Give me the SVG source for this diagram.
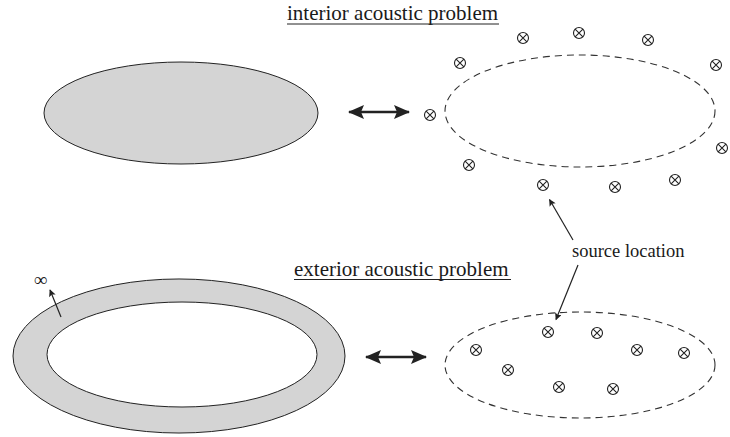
<svg xmlns="http://www.w3.org/2000/svg" width="730" height="437" viewBox="0 0 730 437">
<style>
.t{font-family:"Liberation Serif","Times New Roman",serif;fill:#1a1a1a}
.shape{fill:#d4d4d4;stroke:#222;stroke-width:1}
.dash{fill:none;stroke:#333;stroke-width:1.1;stroke-dasharray:7 5}
.src circle{fill:none;stroke:#222;stroke-width:1.1}
.src path{stroke:#222;stroke-width:1.1}
.ln{stroke:#222;stroke-width:1.2;fill:none}
.dbl{stroke:#222;stroke-width:2.6;fill:none}
.ul{stroke:#222;stroke-width:1}
</style>
<defs>
<symbol id="s" viewBox="-7 -7 14 14" width="14" height="14" overflow="visible">
<g class="src"><circle cx="0" cy="0" r="5.5"/><path d="M-3.9,-3.9 L3.9,3.9 M-3.9,3.9 L3.9,-3.9"/></g>
</symbol>
<marker id="ah" viewBox="0 0 10 10" refX="9" refY="5" markerWidth="9" markerHeight="7" markerUnits="userSpaceOnUse" orient="auto">
<path d="M0,0 L10,5 L0,10 L2,5 Z" fill="#222"/>
</marker>
<marker id="big" viewBox="0 0 16 14" refX="15" refY="7" markerWidth="16" markerHeight="14" markerUnits="userSpaceOnUse" orient="auto-start-reverse">
<path d="M0,0 L16,7 L0,14 L3,7 Z" fill="#222"/>
</marker>
</defs>

<g id="interior-title">
<text class="t" x="287" y="20" font-size="21">interior acoustic problem</text>
<line class="ul" x1="287" y1="24" x2="499" y2="24"/>
</g>

<g id="interior-body">
<ellipse class="shape" cx="181" cy="113" rx="137" ry="51"/>
</g>

<g id="interior-boundary">
<ellipse class="dash" cx="580" cy="111" rx="135" ry="56"/>
</g>

<g id="interior-sources">
<use href="#s" x="516" y="31"/>
<use href="#s" x="572" y="26"/>
<use href="#s" x="641" y="33"/>
<use href="#s" x="709" y="58"/>
<use href="#s" x="453" y="56"/>
<use href="#s" x="423" y="108"/>
<use href="#s" x="462" y="158"/>
<use href="#s" x="536" y="178"/>
<use href="#s" x="608" y="180"/>
<use href="#s" x="668" y="173"/>
<use href="#s" x="715" y="141"/>
</g>

<g id="exterior-title">
<text class="t" x="294" y="276" font-size="21">exterior acoustic problem</text>
<line class="ul" x1="294" y1="279.5" x2="511" y2="279.5"/>
</g>

<g id="exterior-body">
<path class="shape" fill-rule="evenodd" d="M13,356 A166,77 0 1,0 345,356 A166,77 0 1,0 13,356 Z M47,354.5 A135,52.5 0 1,1 317,354.5 A135,52.5 0 1,1 47,354.5 Z"/>
<text class="t" x="40.5" y="286" font-size="19" text-anchor="middle">∞</text>
</g>

<g id="exterior-boundary">
<ellipse class="dash" cx="580" cy="365" rx="135" ry="53"/>
</g>

<g id="exterior-sources">
<use href="#s" x="541" y="325"/>
<use href="#s" x="590" y="326"/>
<use href="#s" x="630" y="343"/>
<use href="#s" x="677" y="346"/>
<use href="#s" x="469" y="343"/>
<use href="#s" x="501" y="363"/>
<use href="#s" x="552" y="380"/>
<use href="#s" x="606" y="382"/>
</g>

<g id="source-location">
<text class="t" x="572" y="257" font-size="18.5">source location</text>
</g>

<g id="connectors">
<line class="dbl" x1="349" y1="112" x2="409" y2="112" marker-start="url(#big)" marker-end="url(#big)"/>
<line class="dbl" x1="366" y1="357" x2="426" y2="357" marker-start="url(#big)" marker-end="url(#big)"/>
<line class="ln" x1="573" y1="240" x2="549.5" y2="199.5" marker-end="url(#ah)"/>
<line class="ln" x1="578" y1="265" x2="556" y2="319.5" marker-end="url(#ah)"/>
<line class="ln" x1="61" y1="317" x2="50" y2="290" marker-end="url(#ah)"/>
</g>
</svg>
